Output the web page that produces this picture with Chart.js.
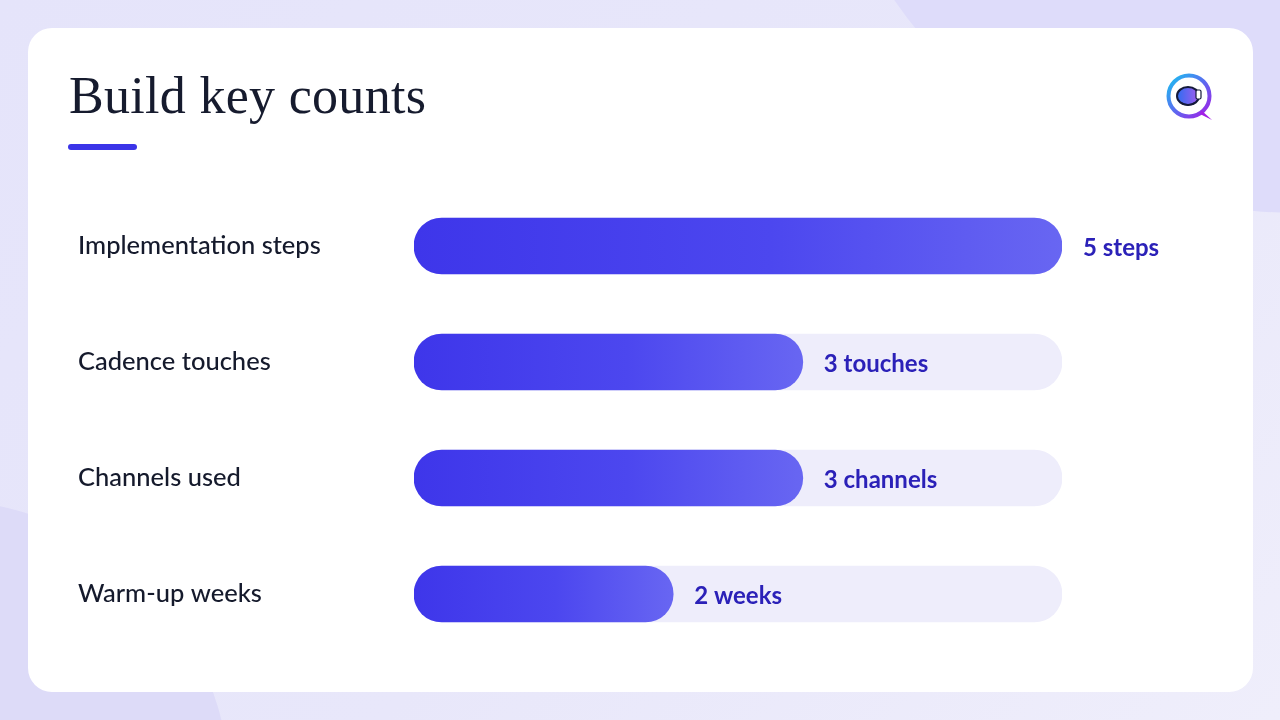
<!DOCTYPE html>
<html>
<head>
<meta charset="utf-8">
<script src="https://cdn.jsdelivr.net/npm/chart.js@4.4.1/dist/chart.umd.min.js"></script>
<style>
  html, body { margin: 0; padding: 0; }
  body {
    width: 1280px; height: 720px; overflow: hidden; position: relative;
    background: linear-gradient(135deg, #e5e4fa 0%, #e8e7fa 55%, #efeefb 100%);
  }
  .blob { position: absolute; border-radius: 50%; }
  #blobTop { left: 807px; top: -773px; width: 986px; height: 986px; background: #dedcfa; }
  #blobLeft { left: -350px; top: 500px; width: 580px; height: 580px; background: #dddbf8; }
  #card {
    position: absolute; left: 28px; top: 28px; width: 1225px; height: 664px;
    background: #fff; border-radius: 24px;
  }
  #title {
    position: absolute; left: 69px; top: 66px; margin: 0;
    font-family: "Liberation Serif", "DejaVu Serif", serif; font-weight: normal;
    font-size: 52px; line-height: 60px; color: #161b2e; letter-spacing: 0.3px;
  }
  #underline {
    position: absolute; left: 68px; top: 144px; width: 69px; height: 6px;
    border-radius: 3px; background: #3b34e8;
  }
  #logo { position: absolute; left: 1163px; top: 70px; }
  #chartWrap { position: absolute; left: 0; top: 0; width: 1280px; height: 720px; }
</style>
</head>
<body>
<div class="blob" id="blobTop"></div>
<div class="blob" id="blobLeft"></div>
<div id="card"></div>
<h1 id="title">Build key counts</h1>
<div id="underline"></div>
<svg id="logo" width="54" height="54" viewBox="0 0 54 54">
  <defs>
    <linearGradient id="ring" x1="0" y1="0" x2="1" y2="1">
      <stop offset="0" stop-color="#19c3f0"/>
      <stop offset="0.5" stop-color="#5a6cf0"/>
      <stop offset="1" stop-color="#a21ee6"/>
    </linearGradient>
    <linearGradient id="face" x1="0" y1="0" x2="1" y2="0">
      <stop offset="0" stop-color="#2f6df0"/>
      <stop offset="1" stop-color="#a35cf0"/>
    </linearGradient>
  </defs>
  <circle cx="26" cy="26" r="20.5" fill="#fff" stroke="url(#ring)" stroke-width="4"/>
  <path d="M38 40 L49 50 L37 44 Z" fill="#a21ee6"/>
  <ellipse cx="25" cy="26" rx="11" ry="9" fill="url(#face)" stroke="#141a3a" stroke-width="2"/>
  <rect x="33" y="20" width="5" height="9" rx="1.5" fill="#fff" stroke="#141a3a" stroke-width="1.2"/>
  <path d="M18 33 Q25 37 32 33" fill="none" stroke="#141a3a" stroke-width="1.5"/>
</svg>
<div id="chartWrap"><canvas id="chart" width="1280" height="720"></canvas></div>

<script>
const categories = ["Implementation steps", "Cadence touches", "Channels used", "Warm-up weeks"];
const counts = [5, 3, 3, 2];
const valueLabels = ["5 steps", "3 touches", "3 channels", "2 weeks"];
const maxCount = 5;

const trackValues = categories.map(() => maxCount);

// per-bar gradient from bar start to bar end
function barGradient(context) {
    const chart = context.chart;
    const area = chart.chartArea;
    if (!area) return "#4a45ee";
    const xScale = chart.scales.x;
    const x0 = xScale.getPixelForValue(0);
    const x1 = xScale.getPixelForValue(context.raw || 0);
    const g = chart.ctx.createLinearGradient(x0, 0, x1, 0);
    g.addColorStop(0, "#3e36ea");
    g.addColorStop(0.55, "#4c47ef");
    g.addColorStop(1, "#6866f2");
    return g;
}

const valueLabelPlugin = {
    id: "valueLabels",
    afterDatasetsDraw(chart) {
        const ctx = chart.ctx;
        const meta = chart.getDatasetMeta(0);
        ctx.save();
        ctx.font = "700 24px Lato, 'Noto Sans', sans-serif";
        ctx.fillStyle = "#2b21b8";
        ctx.textAlign = "left";
        ctx.textBaseline = "middle";
        meta.data.forEach((bar, i) => {
            ctx.fillText(valueLabels[i], bar.x + 21, bar.y + 2);
        });
        ctx.restore();
    }
};

new Chart(document.getElementById("chart"), {
    type: "bar",
    data: {
        labels: categories,
        datasets: [
            {
                data: counts,
                backgroundColor: barGradient,
                borderRadius: 28,
                borderSkipped: false,
                barThickness: 56,
                grouped: false
            },
            {
                data: trackValues,
                backgroundColor: "#eeedfb",
                borderRadius: 28,
                borderSkipped: false,
                barThickness: 56,
                grouped: false
            }
        ]
    },
    options: {
        indexAxis: "y",
        responsive: false,
        animation: false,
        layout: { padding: { left: 78, right: 218, top: 188, bottom: 68 } },
        plugins: {
            legend: { display: false },
            tooltip: { enabled: false }
        },
        scales: {
            x: { display: false, min: 0, max: maxCount },
            y: {
                grid: { display: false },
                border: { display: false },
                afterFit: (scale) => { scale.width = 336; },
                ticks: {
                    crossAlign: "far",
                    padding: 0,
                    color: "#151a2c",
                    font: { family: "Lato, 'Noto Sans', sans-serif", size: 25.5, weight: "500" }
                }
            }
        }
    },
    plugins: [valueLabelPlugin]
});
</script>
</body>
</html>
